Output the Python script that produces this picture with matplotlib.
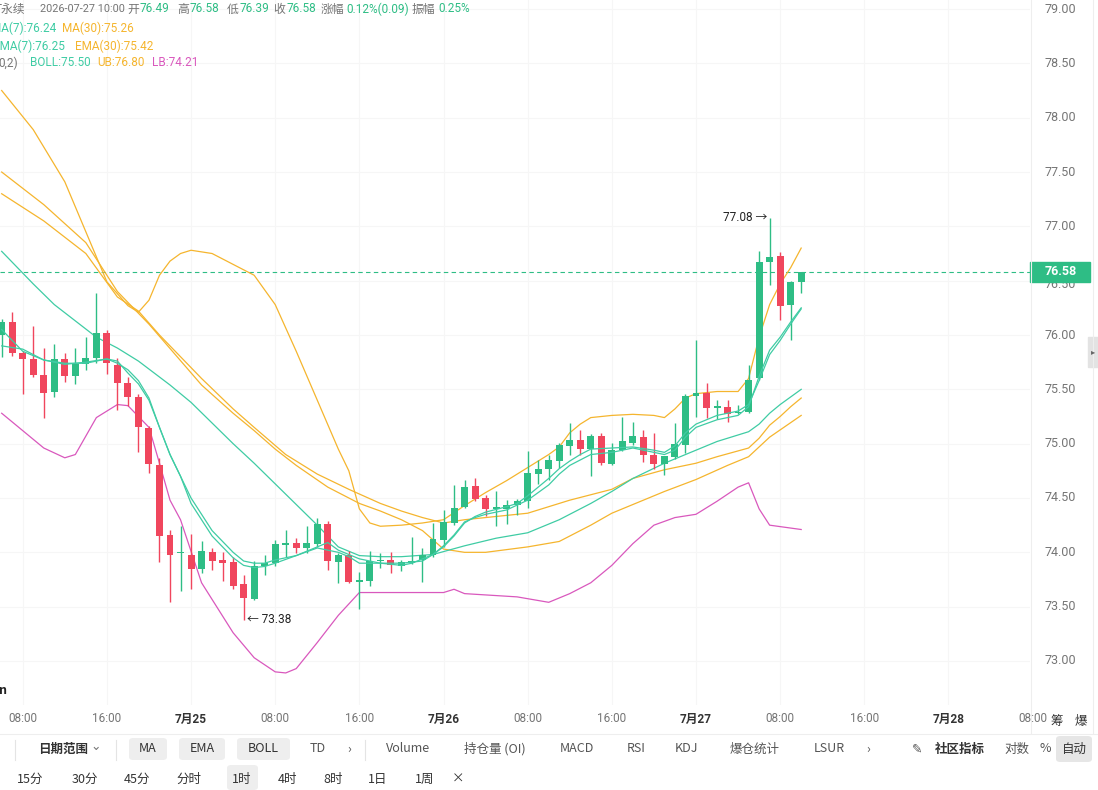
import matplotlib
matplotlib.use("Agg")
import matplotlib.pyplot as plt
from matplotlib.patches import FancyBboxPatch, Rectangle
from matplotlib.transforms import blended_transform_factory
import numpy as np

plt.rcParams['font.family'] = ['Noto Sans CJK SC', 'DejaVu Sans']
NUM = ['Roboto', 'Noto Sans CJK SC', 'DejaVu Sans']

# hourly candles, 2026-07-24 06:00 .. 2026-07-27 10:00
opens = [76.00, 76.12, 75.83, 75.78, 75.63, 75.48, 75.78, 75.62, 75.73, 75.79,
         76.02, 75.72, 75.56, 75.43, 75.14, 74.80, 74.16, 73.99, 73.98, 73.85,
         74.00, 73.93, 73.91, 73.71, 73.57, 73.87, 73.90, 74.07, 74.09, 74.04,
         74.08, 74.26, 73.91, 73.98, 73.73, 73.74, 73.92, 73.93, 73.87, 73.90,
         73.93, 73.98, 74.11, 74.27, 74.42, 74.61, 74.50, 74.40, 74.40, 74.44,
         74.47, 74.72, 74.77, 74.84, 74.98, 75.03, 74.95, 75.07, 74.81, 74.94,
         75.01, 75.06, 74.90, 74.81, 74.88, 74.99, 75.44, 75.47, 75.33, 75.34,
         75.28, 75.29, 75.60, 76.67, 76.73, 76.28, 76.49]
highs = [76.15, 76.21, 75.85, 76.08, 75.88, 75.92, 75.83, 75.88, 75.98, 76.39,
         76.05, 75.79, 75.61, 75.46, 75.16, 74.87, 74.21, 74.24, 74.17, 74.10,
         74.04, 74.00, 73.96, 73.79, 73.92, 73.98, 74.11, 74.21, 74.13, 74.24,
         74.32, 74.29, 73.99, 74.01, 73.82, 74.01, 73.99, 74.00, 73.93, 74.14,
         74.04, 74.27, 74.39, 74.62, 74.67, 74.68, 74.53, 74.56, 74.48, 74.49,
         74.93, 74.85, 74.90, 75.01, 75.19, 75.13, 75.09, 75.10, 75.01, 75.25,
         75.20, 75.13, 75.10, 74.89, 75.19, 75.46, 75.95, 75.56, 75.40, 75.40,
         75.36, 75.72, 76.77, 77.08, 76.76, 76.50, 76.58]
lows = [75.80, 75.81, 75.46, 75.61, 75.24, 75.43, 75.57, 75.55, 75.68, 75.74,
        75.64, 75.31, 75.35, 74.92, 74.73, 73.91, 73.54, 73.64, 73.66, 73.81,
        73.84, 73.74, 73.66, 73.38, 73.56, 73.79, 73.87, 73.96, 73.99, 73.99,
        74.05, 73.84, 73.72, 73.72, 73.48, 73.69, 73.86, 73.81, 73.83, 73.89,
        73.73, 73.96, 74.05, 74.25, 74.41, 74.47, 74.33, 74.24, 74.26, 74.34,
        74.41, 74.63, 74.67, 74.78, 74.90, 74.90, 74.70, 74.80, 74.80, 74.93,
        74.99, 74.83, 74.77, 74.71, 74.86, 74.91, 75.25, 75.24, 75.23, 75.20,
        75.27, 75.28, 75.59, 76.46, 76.14, 75.95, 76.39]
closes = [76.12, 75.83, 75.78, 75.63, 75.47, 75.78, 75.62, 75.73, 75.79, 76.02,
          75.74, 75.56, 75.43, 75.15, 74.81, 74.15, 73.98, 74.00, 73.85, 74.01,
          73.92, 73.90, 73.69, 73.58, 73.87, 73.90, 74.08, 74.08, 74.04, 74.09,
          74.26, 73.92, 73.98, 73.73, 73.74, 73.92, 73.93, 73.88, 73.91, 73.92,
          73.98, 74.12, 74.28, 74.41, 74.60, 74.49, 74.40, 74.41, 74.44, 74.47,
          74.73, 74.77, 74.85, 74.99, 75.03, 74.95, 75.07, 74.82, 74.94, 75.02,
          75.07, 74.90, 74.81, 74.89, 75.00, 75.44, 75.47, 75.33, 75.34, 75.27,
          75.29, 75.59, 76.67, 76.72, 76.27, 76.49, 76.58]

# indicator lines (hour index, value)
ma7_t = [0, 2, 4, 6, 8, 10, 11, 12, 13, 14, 15, 16, 17, 18, 19, 20, 21, 22, 23, 24,
         25, 26, 28, 30, 31, 32, 33, 34, 36, 38, 39, 40, 41, 42, 43, 44, 45, 46, 48,
         49, 50, 51, 52, 53, 54, 55, 56, 58, 60, 62, 63, 64, 65, 66, 67, 68, 69, 70,
         71, 72, 73, 74, 75, 76]
ma7_v = [76.05, 75.85, 75.77, 75.74, 75.74, 75.78, 75.76, 75.65, 75.55, 75.40, 75.15,
         74.90, 74.70, 74.45, 74.30, 74.15, 74.05, 73.95, 73.88, 73.86, 73.87, 73.90,
         73.97, 74.05, 74.09, 74.02, 73.98, 73.94, 73.90, 73.88, 73.90, 73.94, 73.98,
         74.05, 74.15, 74.27, 74.33, 74.37, 74.42, 74.45, 74.52, 74.60, 74.68, 74.77,
         74.84, 74.90, 74.95, 74.96, 74.97, 74.94, 74.92, 74.98, 75.10, 75.18, 75.22,
         75.26, 75.28, 75.30, 75.36, 75.58, 75.82, 75.95, 76.10, 76.24]
ema7_t = [0, 2, 4, 6, 8, 10, 11, 12, 13, 14, 15, 16, 17, 18, 19, 20, 21, 22, 23, 24,
          25, 26, 28, 30, 31, 32, 33, 34, 36, 38, 40, 41, 42, 43, 44, 45, 46, 48, 50,
          52, 53, 54, 56, 58, 60, 62, 63, 64, 65, 66, 68, 70, 71, 72, 73, 74, 75, 76]
ema7_v = [75.90, 75.87, 75.77, 75.73, 75.75, 75.78, 75.74, 75.68, 75.58, 75.42, 75.15,
          74.90, 74.70, 74.50, 74.35, 74.20, 74.10, 74.00, 73.92, 73.90, 73.90, 73.93,
          73.97, 74.04, 74.02, 74.00, 73.96, 73.90, 73.90, 73.90, 73.92, 73.98, 74.06,
          74.16, 74.28, 74.32, 74.35, 74.39, 74.48, 74.62, 74.72, 74.80, 74.90, 74.92,
          74.96, 74.92, 74.90, 74.94, 75.06, 75.15, 75.22, 75.26, 75.34, 75.62, 75.86,
          75.98, 76.12, 76.25]
ma30_t = [0, 4, 8, 11, 13, 14, 19, 22, 24, 26, 28, 31, 34, 36, 38, 40, 42, 44, 46, 50,
          53, 56, 58, 60, 63, 66, 69, 71, 73, 76]
ma30_v = [77.50, 77.20, 76.85, 76.40, 76.20, 76.10, 75.54, 75.28, 75.12, 74.95, 74.80,
          74.60, 74.45, 74.38, 74.30, 74.20, 74.03, 74.00, 74.00, 74.05, 74.10, 74.25,
          74.36, 74.44, 74.56, 74.67, 74.80, 74.88, 75.06, 75.26]
ema30_t = [0, 4, 8, 11, 13, 15, 19, 22, 24, 27, 30, 33, 36, 38, 40, 42, 44, 47, 50, 52,
           54, 56, 58, 60, 63, 66, 68, 71, 72, 73, 74, 75, 76]
ema30_v = [77.30, 77.05, 76.75, 76.35, 76.22, 76.00, 75.60, 75.32, 75.15, 74.90, 74.72,
           74.58, 74.45, 74.38, 74.32, 74.27, 74.30, 74.33, 74.36, 74.42, 74.48, 74.53,
           74.58, 74.68, 74.76, 74.82, 74.88, 74.96, 75.05, 75.17, 75.25, 75.34, 75.42]
boll_t = [0, 3, 5, 9, 11, 13, 16, 18, 20, 22, 24, 26, 28, 30, 32, 34, 36, 38, 41, 44,
          47, 50, 53, 56, 58, 60, 63, 66, 68, 70, 71, 72, 73, 74, 75, 76]
boll_v = [76.77, 76.47, 76.28, 75.98, 75.88, 75.76, 75.54, 75.38, 75.19, 75.00, 74.82,
          74.63, 74.44, 74.25, 74.05, 73.97, 73.96, 73.96, 73.98, 74.06, 74.13, 74.18,
          74.30, 74.45, 74.56, 74.68, 74.82, 74.94, 75.02, 75.08, 75.11, 75.18, 75.28,
          75.36, 75.43, 75.50]
ub_t = [0, 3, 6, 8, 10, 12, 13, 14, 15, 16, 17, 18, 20, 22, 24, 26, 28, 30, 32, 33,
        34, 35, 36, 38, 40, 42, 44, 46, 48, 50, 52, 53, 54, 55, 56, 58, 60, 62, 63,
        64, 65, 66, 68, 70, 71, 72, 73, 74, 75, 76]
ub_v = [78.25, 77.89, 77.41, 76.95, 76.49, 76.27, 76.21, 76.32, 76.55, 76.68, 76.75,
        76.78, 76.75, 76.65, 76.55, 76.28, 75.85, 75.40, 74.95, 74.75, 74.40, 74.27,
        74.24, 74.25, 74.27, 74.30, 74.43, 74.55, 74.66, 74.78, 74.90, 74.97, 75.10,
        75.18, 75.24, 75.26, 75.27, 75.26, 75.24, 75.32, 75.42, 75.46, 75.48, 75.48,
        75.60, 75.98, 76.28, 76.47, 76.62, 76.80]
lb_t = [0, 4, 6, 7, 9, 11, 12, 14, 15, 16, 17, 19, 22, 24, 26, 27, 28, 30, 32, 34, 36,
        40, 42, 43, 44, 49, 52, 54, 56, 58, 60, 62, 64, 66, 68, 70, 71, 72, 73, 76]
lb_v = [75.28, 74.96, 74.87, 74.90, 75.24, 75.36, 75.35, 75.15, 74.82, 74.48, 74.30,
        73.72, 73.26, 73.03, 72.90, 72.89, 72.93, 73.17, 73.42, 73.63, 73.63, 73.63,
        73.63, 73.66, 73.62, 73.59, 73.54, 73.62, 73.72, 73.88, 74.08, 74.25, 74.32,
        74.35, 74.47, 74.60, 74.64, 74.40, 74.25, 74.21]

price_ticks = [73.00, 73.50, 74.00, 74.50, 75.00, 75.50, 76.00, 76.50, 77.00, 77.50,
               78.00, 78.50, 79.00]
time_labels = ["08:00", "16:00", "7月25", "08:00", "16:00", "7月26", "08:00", "16:00",
               "7月27", "08:00", "16:00", "7月28", "08:00"]
last_price = 76.58

GREEN = '#2ebd85'
RED = '#f0465d'
TEAL = '#3fcca4'
ORANGE = '#f5b52e'
PINK = '#d958bd'
GRAY = '#757575'

W, H = 1098, 790
fig = plt.figure(figsize=(W / 100, H / 100), dpi=100)
ax = fig.add_axes([0, 1 - 705 / H, 1030 / W, 705 / H])
ax.set_xlim(-0.16, 97.75)
ax.set_ylim(72.595, 79.083)
for s in ax.spines.values():
    s.set_visible(False)
ax.set_xticks([])
ax.set_yticks([])

def px(x, y):
    return x / W, 1 - y / H

# faint grid
for k in range(len(time_labels)):
    ax.axvline(2 + 8 * k, color='#f6f6f6', lw=0.8, zorder=0)
for v in price_ticks:
    ax.axhline(v, color='#f6f6f6', lw=0.8, zorder=0)

# candles
o = np.array(opens); h = np.array(highs); l = np.array(lows); c = np.array(closes)
idx = np.arange(len(o))
col = np.where(c >= o, GREEN, RED)
ax.vlines(idx, l, h, colors=col, lw=1.0, zorder=3)
ax.bar(idx, np.maximum(np.abs(c - o), 0.014), bottom=np.minimum(o, c), width=0.66,
       color=col, lw=0, zorder=3)

# indicator lines
ax.plot(ub_t, ub_v, color=ORANGE, lw=0.9, zorder=2)
ax.plot(ma30_t, ma30_v, color=ORANGE, lw=0.9, zorder=2)
ax.plot(ema30_t, ema30_v, color=ORANGE, lw=0.9, zorder=2)
ax.plot(boll_t, boll_v, color=TEAL, lw=0.9, zorder=2)
ax.plot(ma7_t, ma7_v, color=TEAL, lw=0.9, zorder=4)
ax.plot(ema7_t, ema7_v, color=TEAL, lw=0.9, zorder=4)
ax.plot(lb_t, lb_v, color=PINK, lw=0.9, zorder=2)

ax.axhline(last_price, color=GREEN, lw=0.8, ls=(0, (4, 3)), zorder=1)

# high / low marks
hi = int(np.argmax(h)); lo = int(np.argmin(l))
ax.text(hi - 0.2, h[hi], f"{h[hi]:.2f} →", ha='right', va='center', fontsize=8.5,
        color='#222222', family=NUM)
ax.text(lo + 0.3, l[lo], f"← {l[lo]:.2f}", ha='left', va='center', fontsize=8.5,
        color='#222222', family=NUM)

# price axis
trans = blended_transform_factory(fig.transFigure, ax.transData)
for v in price_ticks:
    if abs(v - last_price) < 0.1:
        yv = v - 0.035
    else:
        yv = v
    ax.text(1060 / W, yv, f"{v:.2f}", transform=trans, ha='center', va='center',
            fontsize=9, color=GRAY, clip_on=False, family=NUM)
ax.add_patch(Rectangle((1030 / W, last_price - 0.09), 60 / W, 0.18, transform=trans,
                       color=GREEN, clip_on=False, zorder=5))
ax.text(1061 / W, last_price, f"{last_price:.2f}", transform=trans, ha='center',
        va='center', fontsize=9, color='white', weight='bold', clip_on=False,
        zorder=6, family=NUM)

fig.add_artist(plt.Line2D([1031 / W, 1031 / W], [1 - 733 / H, 1], color='#eeeeee', lw=0.8))
fig.add_artist(plt.Line2D([1093 / W, 1093 / W], [1 - 733 / H, 1], color='#eeeeee', lw=0.8))
fig.add_artist(Rectangle(px(1088, 367), 10 / W, 30 / H, color='#e3e3e3'))
fig.text(*px(1093, 352), "▸", ha='center', va='center', fontsize=6, color='#666666')

# time axis
for k, lab in enumerate(time_labels):
    xf = ax.transData.transform((2 + 8 * k, 0))[0] / W
    fig.text(xf, 1 - 719 / H, lab, ha='center', va='center', fontsize=8.5,
             color='#333333' if '月' in lab else GRAY,
             weight='bold' if '月' in lab else 'normal', family=NUM)
fig.text(*px(1057, 721), "筹", ha='center', va='center', fontsize=9, color='#333333')
fig.text(*px(1081, 721), "爆", ha='center', va='center', fontsize=9, color='#333333')
fig.text(*px(-1, 690), "n", ha='left', va='center', fontsize=9, color='#222222', weight='bold')

# header
def head(x, y, s, color, size=8.5, **kw):
    fig.text(*px(x, y), s, ha='left', va='center', fontsize=size, color=color,
             family=NUM, **kw)

head(-5, 9, "T永续", GRAY)
head(40, 9, "2026-07-27 10:00", GRAY, size=7.8)
head(127, 9, "开", GRAY); head(140, 9, "76.49", GREEN)
head(177, 9, "高", GRAY); head(190, 9, "76.58", GREEN)
head(227, 9, "低", GRAY); head(240, 9, "76.39", GREEN)
head(273, 9, "收", GRAY); head(287, 9, "76.58", GREEN)
head(321, 9, "涨幅", GRAY); head(346, 9, "0.12%(0.09)", GREEN)
head(412, 9, "振幅", GRAY); head(438, 9, "0.25%", GREEN)
head(-9, 28, "MA(7):76.24", TEAL); head(62, 28, "MA(30):75.26", ORANGE)
head(-7, 46, "EMA(7):76.25", TEAL); head(75, 46, "EMA(30):75.42", ORANGE)
head(-2, 63, "0,2)", GRAY); head(30, 63, "BOLL:75.50", TEAL)
head(97, 63, "UB:76.80", ORANGE); head(152, 63, "LB:74.21", PINK)

# toolbar rows
fig.add_artist(plt.Line2D([0, 1], [1 - 734 / H, 1 - 734 / H], color='#eeeeee', lw=0.8))
for xs in (15, 116, 365):
    fig.add_artist(plt.Line2D([xs / W, xs / W], [1 - 740 / H, 1 - 760 / H], color='#e4e4e4', lw=0.8))

def box(x0, y0, w, hh, color='#eeeeee'):
    fig.add_artist(FancyBboxPatch(px(x0, y0 + hh), w / W, hh / H,
                                  boxstyle="round,pad=0,rounding_size=0.004",
                                  color=color, lw=0))

box(129, 738, 38, 22); box(179, 738, 46, 22); box(237, 738, 53, 22)
box(1056, 736, 36, 26, '#e6e6e6')
box(227, 765, 31, 25, '#eeeeee')

def tool(x, s, color='#333333', y=749, **kw):
    fig.text(*px(x, y), s, ha='center', va='center', fontsize=9, color=color, **kw)

tool(63, "日期范围", weight='bold'); tool(96, "⌄", color=GRAY, y=747)
tool(148, "MA"); tool(202, "EMA"); tool(263, "BOLL")
tool(318, "TD", color='#555555'); tool(349, "›", color='#555555')
tool(408, "Volume", color='#555555'); tool(495, "持仓量 (OI)", color='#555555')
tool(577, "MACD", color='#555555'); tool(636, "RSI", color='#555555')
tool(687, "KDJ", color='#555555'); tool(755, "爆仓统计", color='#555555')
tool(829, "LSUR", color='#555555'); tool(868, "›", color='#555555')
tool(917, "✎", color='#555555', family=['DejaVu Sans']); tool(960, "社区指标", weight='bold')
tool(1017, "对数", color='#555555'); tool(1045, "%", color='#555555')
tool(1074, "自动")

for x, s in [(30, "15分"), (85, "30分"), (137, "45分"), (189, "分时"), (242, "1时"),
             (287, "4时"), (333, "8时"), (378, "1日"), (425, "1周"), (458, "×")]:
    tool(x, s, y=779, color='#333333')

fig.savefig("out.png", dpi=100, facecolor='white')
